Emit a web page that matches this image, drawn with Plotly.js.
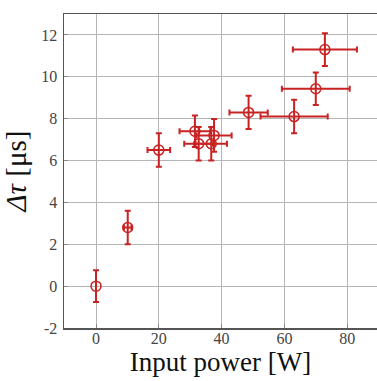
<!DOCTYPE html>
<html>
<head>
<meta charset="utf-8">
<script src="https://cdn.plot.ly/plotly-3.0.1.min.js"></script>
<style>html,body{margin:0;padding:0;background:#fff;}#chart{width:377px;height:381px;}</style>
</head>
<body>
<div id="chart"></div>
<script>
var power    = [0,    10.1, 20,  31.5, 32.7, 37.6, 36.7, 48.6, 63.1, 70,   72.9];
var delay    = [0,    2.8,  6.5, 7.4,  6.8,  7.2,  6.8,  8.3,  8.1,  9.43, 11.3];
var powerErr = [0,    1.2,  3.6, 4.9,  4.6,  5.6,  5.0,  6.1,  10.7, 10.8, 10.2];
var delayErr = [0.76, 0.8,  0.8, 0.75, 0.8,  0.78, 0.8,  0.79, 0.8,  0.78, 0.78];
var xTicks = [0, 20, 40, 60, 80];
var yTicks = [-2, 0, 2, 4, 6, 8, 10, 12];

var red = '#c82222';
var trace = {
  x: power, y: delay, type: 'scatter', mode: 'markers',
  marker: {symbol: 'circle-open', size: 10, color: red, line: {width: 1.5, color: red}},
  error_x: {type: 'data', array: powerErr, visible: true, color: red, thickness: 2, width: 3},
  error_y: {type: 'data', array: delayErr, visible: true, color: red, thickness: 2, width: 3},
  hoverinfo: 'none'
};
var fontFam = 'Liberation Serif';
var layout = {
  width: 377, height: 381,
  margin: {l: 64, r: 0, t: 14, b: 53},
  paper_bgcolor: '#fff', plot_bgcolor: '#fff',
  showlegend: false,
  font: {family: fontFam, color: '#333', size: 16},
  xaxis: {
    range: [-10.2, 89.5], tickvals: xTicks, ticktext: xTicks.map(String),
    showgrid: true, gridcolor: '#b5b5b5', gridwidth: 1, zeroline: false,
    showline: true, linecolor: '#555', linewidth: 1.5, mirror: true,
    ticks: 'inside', ticklen: 4, tickcolor: '#888',
    ticklabelstandoff: -5,
    tickfont: {family: fontFam, size: 16, color: '#444'},
    title: {text: 'Input power [W]', font: {family: fontFam, size: 27, color: '#111'}, standoff: 0}
  },
  yaxis: {
    range: [-2, 13], tickvals: yTicks, ticktext: yTicks.map(String),
    showgrid: true, gridcolor: '#b5b5b5', gridwidth: 1, zeroline: false,
    showline: true, linecolor: '#555', linewidth: 1.5, mirror: true,
    ticks: 'inside', ticklen: 4, tickcolor: '#888',
    ticklabelstandoff: 2,
    tickfont: {family: fontFam, size: 16, color: '#444'},
    title: {text: '<i>Δτ</i> [μs]', font: {family: fontFam, size: 29, color: '#111'}, standoff: 6}
  }
};
Plotly.newPlot('chart', [trace], layout, {displayModeBar: false, staticPlot: true});
</script>
</body>
</html>
